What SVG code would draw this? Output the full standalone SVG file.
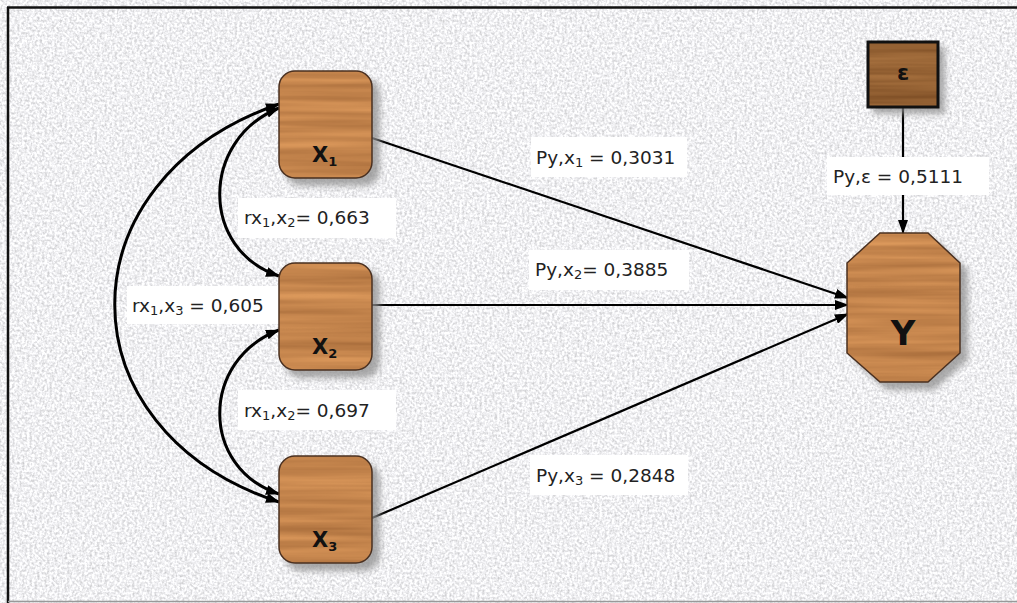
<svg xmlns="http://www.w3.org/2000/svg" width="1017" height="603" viewBox="0 0 1017 603">
<defs>
<filter id="paper" x="0" y="0" width="100%" height="100%" color-interpolation-filters="sRGB">
<feTurbulence type="fractalNoise" baseFrequency="0.4" numOctaves="2" seed="3" result="n"/>
<feColorMatrix in="n" type="matrix" values="0.4 0 0 0 0.74  0.4 0 0 0 0.74  0.4 0 0 0 0.75  0 0 0 0 1"/>
<feComposite operator="in" in2="SourceAlpha"/>
</filter>
<filter id="wood" x="0" y="0" width="100%" height="100%" color-interpolation-filters="sRGB">
<feTurbulence type="fractalNoise" baseFrequency="0.004 0.12" numOctaves="3" seed="7" result="n"/>
<feColorMatrix in="n" type="matrix" values="0.26 0 0 0 0.64  0.22 0 0 0 0.41  0.16 0 0 0 0.22  0 0 0 0 1"/>
<feComposite operator="in" in2="SourceAlpha"/>
</filter>
<filter id="wooddark" x="0" y="0" width="100%" height="100%" color-interpolation-filters="sRGB">
<feTurbulence type="fractalNoise" baseFrequency="0.004 0.12" numOctaves="3" seed="11" result="n"/>
<feColorMatrix in="n" type="matrix" values="0.26 0 0 0 0.45  0.22 0 0 0 0.27  0.16 0 0 0 0.12  0 0 0 0 1"/>
<feComposite operator="in" in2="SourceAlpha"/>
</filter>
<filter id="shadow" x="-20%" y="-20%" width="140%" height="140%">
<feGaussianBlur stdDeviation="3"/>
</filter>
<marker id="ah" viewBox="0 0 14 10" refX="13" refY="5" markerWidth="14" markerHeight="10" markerUnits="userSpaceOnUse" orient="auto-start-reverse">
<path d="M0,0 L14,5 L0,10 Z" fill="#000"/>
</marker>
<style>
.conn{fill:none;stroke:#000;stroke-width:2.2}
.arc{fill:none;stroke:#000;stroke-width:3}
.lbox{fill:#fff}
.lt{font-family:"DejaVu Sans",Verdana,sans-serif;font-size:18.5px;fill:#222}
.nt{font-family:"DejaVu Sans",Verdana,sans-serif;font-weight:bold;fill:#111}
.sh{fill:#8f8f8f;opacity:0.75}
.edge{fill:none;stroke:#4a3020;stroke-width:1.5}
</style>
</defs>
<rect x="0" y="0" width="1017" height="603" fill="#ededed"/>
<rect x="0" y="0" width="1017" height="603" fill="#fff" filter="url(#paper)"/>
<line x1="7" y1="7.5" x2="1017" y2="7.5" stroke="#111" stroke-width="2.5"/>
<line x1="8" y1="7" x2="8" y2="603" stroke="#111" stroke-width="2.5"/>
<line x1="8" y1="601.5" x2="1017" y2="601.5" stroke="#999" stroke-width="1.5"/>

<g id="connectors">
<line class="conn" x1="372" y1="138" x2="848" y2="298" marker-end="url(#ah)"/>
<line class="conn" x1="372" y1="305" x2="848" y2="305" marker-end="url(#ah)"/>
<line class="conn" x1="372" y1="518" x2="848" y2="314" marker-end="url(#ah)"/>
<line class="conn" x1="903" y1="107" x2="903" y2="233" marker-end="url(#ah)"/>
<path class="arc" d="M279 108 C200 140 200 250 279 276" marker-start="url(#ah)" marker-end="url(#ah)"/>
<path class="arc" d="M279 330 C200 360 200 468 279 494" marker-start="url(#ah)" marker-end="url(#ah)"/>
<path class="arc" d="M279 104 C60 180 60 430 279 502" marker-start="url(#ah)" marker-end="url(#ah)"/>
</g>

<g id="labels">
<rect class="lbox" x="531" y="137" width="156" height="40"/>
<text class="lt" x="536" y="164">Py,x<tspan font-size="13" dy="3">1</tspan><tspan dy="-3"> = 0,3031</tspan></text>
<rect class="lbox" x="827" y="157" width="162" height="38"/>
<text class="lt" x="833" y="183">Py,ε = 0,5111</text>
<rect class="lbox" x="238" y="198" width="158" height="40"/>
<text class="lt" x="244" y="224">rx<tspan font-size="13" dy="3">1</tspan><tspan dy="-3">,x</tspan><tspan font-size="13" dy="3">2</tspan><tspan dy="-3">= 0,663</tspan></text>
<rect class="lbox" x="529" y="250" width="160" height="40"/>
<text class="lt" x="535" y="276">Py,x<tspan font-size="13" dy="3">2</tspan><tspan dy="-3">= 0,3885</tspan></text>
<rect class="lbox" x="127" y="286" width="153" height="38"/>
<text class="lt" x="132" y="312">rx<tspan font-size="13" dy="3">1</tspan><tspan dy="-3">,x</tspan><tspan font-size="13" dy="3">3</tspan><tspan dy="-3"> = 0,605</tspan></text>
<rect class="lbox" x="238" y="390" width="158" height="40"/>
<text class="lt" x="244" y="417">rx<tspan font-size="13" dy="3">1</tspan><tspan dy="-3">,x</tspan><tspan font-size="13" dy="3">2</tspan><tspan dy="-3">= 0,697</tspan></text>
<rect class="lbox" x="530" y="455" width="158" height="40"/>
<text class="lt" x="536" y="482">Py,x<tspan font-size="13" dy="3">3</tspan><tspan dy="-3"> = 0,2848</tspan></text>
</g>

<g id="node-x1">
<rect class="sh" x="285" y="78" width="95" height="108" rx="16" filter="url(#shadow)"/>
<rect x="279" y="71" width="93" height="107" rx="16" fill="#c98a55" filter="url(#wood)"/>
<rect class="edge" x="279" y="71" width="93" height="107" rx="16"/>
<text class="nt" x="312" y="162" font-size="21">X<tspan font-size="13" dy="4">1</tspan></text>
</g>
<g id="node-x2">
<rect class="sh" x="285" y="270" width="95" height="108" rx="16" filter="url(#shadow)"/>
<rect x="279" y="263" width="93" height="107" rx="16" fill="#c98a55" filter="url(#wood)"/>
<rect class="edge" x="279" y="263" width="93" height="107" rx="16"/>
<text class="nt" x="312" y="354" font-size="21">X<tspan font-size="13" dy="4">2</tspan></text>
</g>
<g id="node-x3">
<rect class="sh" x="285" y="463" width="95" height="108" rx="16" filter="url(#shadow)"/>
<rect x="279" y="456" width="93" height="107" rx="16" fill="#c98a55" filter="url(#wood)"/>
<rect class="edge" x="279" y="456" width="93" height="107" rx="16"/>
<text class="nt" x="312" y="547" font-size="21">X<tspan font-size="13" dy="4">3</tspan></text>
</g>
<g id="node-e">
<rect class="sh" x="873" y="47" width="72" height="67" filter="url(#shadow)"/>
<rect x="868" y="42" width="70" height="65" fill="#9a6238" filter="url(#wooddark)"/>
<rect x="868" y="42" width="70" height="65" fill="none" stroke="#111" stroke-width="3"/>
<text class="nt" x="903" y="80" font-size="22" text-anchor="middle">ε</text>
</g>
<g id="node-y">
<polygon class="sh" points="886,239 934,239 968,270 968,360 934,390 886,390 854,360 854,270" filter="url(#shadow)"/>
<polygon points="880,233 928,233 960,263 960,353 928,382 880,382 847,353 847,263" fill="#c98a55" filter="url(#wood)"/>
<polygon class="edge" points="880,233 928,233 960,263 960,353 928,382 880,382 847,353 847,263"/>
<text class="nt" x="903" y="345" font-size="34" text-anchor="middle">Y</text>
</g>
</svg>
